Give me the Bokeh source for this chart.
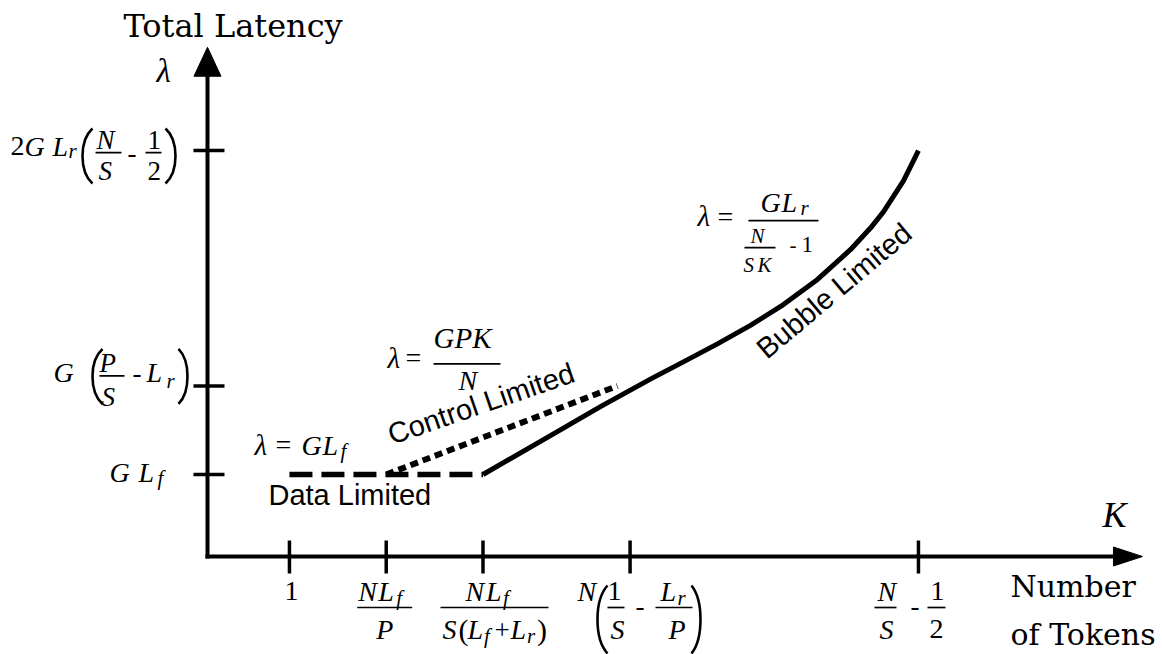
import math

from bokeh.plotting import figure
from bokeh.models import Range1d, ColumnDataSource
from bokeh.core.properties import value, field
from bokeh.embed import file_html
from bokeh.resources import INLINE

# ---------------------------------------------------------------
# Schematic latency model: K = number of tokens, lambda = latency
# ---------------------------------------------------------------
X_TICKS = [1.0, 2.0, 3.0, 4.52, 7.5]          # 1, NLf/P, NLf/S(Lf+Lr), N(1/S-Lr/P), N/S-1/2
Y_TICKS = [1.0, 2.08, 4.95]                   # G Lf, G(P/S-Lr), 2G Lr(N/S-1/2)

DATA_K = [1.0, 3.0]                           # data limited: lambda = G Lf
DATA_LAT = [1.0, 1.0]
CONTROL_K = [2.0, 4.39]                       # control limited: lambda = GPK/N
CONTROL_LAT = [1.0, 2.08]
BUBBLE_K = [3.0, 3.80, 4.214, 4.73, 5.071, 5.423, 5.764, 6.105, 6.457, 6.797,
            7.004, 7.138, 7.345, 7.50]
BUBBLE_LAT = [1.0, 1.545, 1.828, 2.163, 2.373, 2.593, 2.818, 3.072, 3.379, 3.741,
              4.005, 4.202, 4.580, 4.95]

REGIME_LABELS = ["Data Limited", "Control Limited", "Bubble Limited"]

# axis geometry (data units)
AXIS_K = 0.153
X_TIP = 9.815
Y_TIP = 6.21

W, H = 1162, 654
X0, X1 = -1.986, 10.022
Y0, Y1 = -1.195, 6.780
PXK = W / (X1 - X0)      # pixels per K unit
PXL = H / (Y1 - Y0)      # pixels per latency unit
RAISE = 0.37             # baseline correction, in ems

SERIF = "Liberation Serif"
WIDE_SERIF = "DejaVu Serif"
SANS = "Liberation Sans"

p = figure(width=W, height=H, x_range=Range1d(X0, X1), y_range=Range1d(Y0, Y1),
           toolbar_location=None, output_backend="svg", min_border=0, title=None,
           x_axis_location=None, y_axis_location=None,
           background_fill_color="white", border_fill_color="white")
p.outline_line_color = None
p.grid.visible = False

# ---------------- helpers for typeset formulas ----------------
texts = dict(x=[], y=[], text=[], size=[], font=[], style=[])
bars = dict(x0=[], y0=[], x1=[], y1=[])
parens = dict(x0=[], y0=[], x1=[], y1=[], cx0=[], cy0=[], cx1=[], cy1=[])


def kx(ak, dx):
    return ak + dx / PXK


def ly(al, dy):
    return al - dy / PXL


def put(ak, al, s, dx, dy, size=27, style="italic", font=SERIF):
    texts["x"].append(kx(ak, dx))
    texts["y"].append(ly(al, dy - RAISE * size))
    texts["text"].append(s)
    texts["size"].append(f"{size}px")
    texts["font"].append(font)
    texts["style"].append(style)


def bar(ak, al, dx0, dx1, dy):
    bars["x0"].append(kx(ak, dx0))
    bars["x1"].append(kx(ak, dx1))
    bars["y0"].append(ly(al, dy))
    bars["y1"].append(ly(al, dy))


def paren(ak, al, left, right, top, bottom, opening):
    h = bottom - top
    if opening:
        ex = right
        c = (left - 0.25 * right) / 0.75
    else:
        ex = left
        c = (right - 0.25 * left) / 0.75
    parens["x0"].append(kx(ak, ex))
    parens["y0"].append(ly(al, top))
    parens["x1"].append(kx(ak, ex))
    parens["y1"].append(ly(al, bottom))
    parens["cx0"].append(kx(ak, c))
    parens["cy0"].append(ly(al, top + 0.22 * h))
    parens["cx1"].append(kx(ak, c))
    parens["cy1"].append(ly(al, bottom - 0.22 * h))


def typeset(ak, al, spec):
    for item in spec:
        kind = item[0]
        if kind == "t":
            _, s, dx, dy, size, style = item
            put(ak, al, s, dx, dy, size, style)
        elif kind == "bar":
            _, a, b, dy = item
            bar(ak, al, a, b, dy)
        else:
            _, l, r, t, b = item
            paren(ak, al, l, r, t, b, kind == "(")


I, U = "italic", "normal"

Y_LABELS = [
    # G L_f
    [("t", "G", -98, 8, 28, I), ("t", "L", -69, 8, 28, I), ("t", "f", -50, 11, 21, I)],
    # G (P/S - L_r)
    [("t", "G", -154, -3, 28, I), ("(", -115, -105, -37, 18),
     ("t", "P", -108, -13, 27, I), ("bar", -108, -83, -10), ("t", "S", -106, 21, 27, I),
     ("t", "-", -75, -3, 27, U), ("t", "L", -61, -3, 28, I), ("t", "r", -41, 3, 21, I),
     (")", -29, -20, -37, 18)],
    # 2G L_r (N/S - 1/2)
    [("t", "2", -197, 6, 28, U), ("t", "G", -183, 6, 28, I), ("t", "L", -155, 6, 28, I),
     ("t", "r", -139, 8, 21, I), ("(", -125, -115, -22, 33),
     ("t", "N", -111, -1, 27, I), ("bar", -112, -86, 2), ("t", "S", -109, 30, 27, I),
     ("t", "-", -80, 12, 27, U),
     ("t", "1", -60, -1, 27, U), ("bar", -62, -46, 2), ("t", "2", -60, 30, 27, U),
     (")", -42, -32, -22, 33)],
]

NUM, BAR, DEN = 45, 51, 83
X_LABELS = [
    # 1
    [("t", "1", -5, 45, 28, U)],
    # N L_f / P
    [("t", "N", -28, NUM, 28, I), ("t", "L", -8, NUM, 28, I), ("t", "f", 10, NUM + 4, 21, I),
     ("bar", -29, 26, BAR), ("t", "P", -10, DEN, 28, I)],
    # N L_f / S (L_f + L_r)
    [("t", "N", -17.5, NUM, 28, I), ("t", "L", 3.0, NUM, 28, I), ("t", "f", 20, NUM + 4, 21, I),
     ("bar", -42.5, 65.5, BAR),
     ("t", "S", -40.5, DEN, 28, I), ("t", "(", -24.5, DEN + 1, 30, U), ("t", "L", -15.5, DEN, 28, I),
     ("t", "f", 1, DEN + 4, 21, I), ("t", "+", 11.5, DEN, 27, U), ("t", "L", 27.5, DEN, 28, I),
     ("t", "r", 44, DEN + 4, 21, I), ("t", ")", 54, DEN + 1, 30, U)],
    # N (1/S - L_r/P)
    [("t", "N", -52.6, NUM, 28, I), ("(", -32.6, -22.6, 29, 97),
     ("t", "1", -22.6, NUM, 28, U), ("bar", -22.6, -5.6, BAR), ("t", "S", -19.6, DEN, 28, I),
     ("t", "-", 5.4, BAR + 8, 27, U),
     ("t", "L", 30.4, NUM, 28, I), ("t", "r", 47.4, NUM + 4, 21, I), ("bar", 25.4, 62.4, BAR),
     ("t", "P", 38.4, DEN, 28, I), (")", 61.4, 70.4, 29, 97)],
    # N/S - 1/2
    [("t", "N", -41, NUM, 28, I), ("bar", -44, -22, BAR), ("t", "S", -39, DEN, 28, I),
     ("t", "-", -8, BAR + 8, 27, U),
     ("t", "1", 12, NUM, 28, U), ("bar", 9, 27, BAR), ("t", "2", 11, DEN, 28, U)],
]

for tv, spec in zip(Y_TICKS, Y_LABELS):
    typeset(AXIS_K, tv, spec)
for tk, spec in zip(X_TICKS, X_LABELS):
    typeset(tk, 0.0, spec)

# regime formulas, placed relative to the curve segments they describe
typeset(DATA_K[0], DATA_LAT[0], [
    ("t", "λ", -35, -19, 29, I), ("t", "=", -14, -20, 28, U),
    ("t", "G", 12, -19, 28, I), ("t", "L", 33, -19, 28, I), ("t", "f", 51, -16, 21, I)])

typeset(CONTROL_K[-1], CONTROL_LAT[-1], [
    ("t", "λ", -230, -17, 29, I), ("t", "=", -212, -18, 28, U),
    ("t", "GPK", -184, -37, 29, I), ("bar", -184, -117, -22),
    ("t", "N", -159, 5, 28, I)])

typeset(BUBBLE_K[-1], BUBBLE_LAT[-1], [
    ("t", "λ", -221, 76, 29, I), ("t", "=", -201, 76, 28, U),
    ("t", "G", -158, 62, 28, I), ("t", "L", -137, 62, 28, I), ("t", "r", -118, 65, 21, I),
    ("bar", -170, -100, 70),
    ("t", "N", -168, 93, 21, I), ("bar", -174, -143, 97),
    ("t", "S", -175, 122, 21, I), ("t", "K", -161, 122, 21, I),
    ("t", "-", -129, 102, 21, U), ("t", "1", -117, 102, 23, U)])

# axis symbols and titles
put(AXIS_K, Y_TIP, "λ", -51, 36, 33, I)
put(AXIS_K, Y_TIP, "Total Latency", -84, -9, 32, U, WIDE_SERIF)
put(X_TIP, 0.0, "K", -40, -28, 36, I)
put(X_TIP, 0.0, "Number", -132, 41, 30, U, WIDE_SERIF)
put(X_TIP, 0.0, "of Tokens", -132, 89, 30, U, WIDE_SERIF)

# ---------------- axes ----------------
p.segment(x0=[AXIS_K, AXIS_K - 2 / PXK], y0=[-2 / PXL, 0.0],
          x1=[AXIS_K, X_TIP - 20 / PXK], y1=[Y_TIP - 20 / PXL, 0.0],
          line_color="black", line_width=4)

# arrow heads
head_y = ([AXIS_K - 13.5 / PXK, AXIS_K, AXIS_K + 13.5 / PXK],
          [Y_TIP - 29 / PXL, Y_TIP, Y_TIP - 29 / PXL])
head_x = ([X_TIP - 29 / PXK, X_TIP, X_TIP - 29 / PXK],
          [-9.5 / PXL, 0.0, 9.5 / PXL])
p.patches(xs=[head_y[0], head_x[0]], ys=[head_y[1], head_x[1]],
          fill_color="black", line_color="black", line_width=1)

# tick marks
p.segment(x0=[AXIS_K - 14 / PXK] * len(Y_TICKS), y0=Y_TICKS,
          x1=[AXIS_K + 17 / PXK] * len(Y_TICKS), y1=Y_TICKS,
          line_color="black", line_width=3.5)
p.segment(x0=X_TICKS, y0=[16 / PXL] * len(X_TICKS),
          x1=X_TICKS, y1=[-17 / PXL] * len(X_TICKS),
          line_color="black", line_width=3.5)

# ---------------- regime curves ----------------
p.line(DATA_K, DATA_LAT, line_color="black", line_width=5.5, line_dash="23 9")
p.line(CONTROL_K, CONTROL_LAT, line_color="black", line_width=6, line_dash="8 5")
p.line(BUBBLE_K, BUBBLE_LAT, line_color="black", line_width=5, line_join="round")

# ---------------- formula pieces ----------------
p.segment(x0="x0", y0="y0", x1="x1", y1="y1", source=ColumnDataSource(bars),
          line_color="black", line_width=1.7)
p.bezier(x0="x0", y0="y0", x1="x1", y1="y1", cx0="cx0", cy0="cy0", cx1="cx1", cy1="cy1",
         source=ColumnDataSource(parens), line_color="black", line_width=2.6)
p.text(x="x", y="y", text="text", source=ColumnDataSource(texts),
       text_font=field("font"), text_font_size=field("size"), text_font_style=field("style"),
       text_color="black", text_align="left", text_baseline="alphabetic")

# ---------------- regime names ----------------
REG_SIZE = 29
reg_anchor = [(DATA_K[0], DATA_LAT[0], -21, 31, 0),
              (CONTROL_K[0], CONTROL_LAT[0], 6, -29, 19),
              (BUBBLE_K[-1], BUBBLE_LAT[-1], -151, 210, 40)]
reg_x, reg_y, reg_angle = [], [], []
for ak, al, dx, dy, ang in reg_anchor:
    lift = RAISE * REG_SIZE
    t = math.radians(ang)
    reg_x.append(kx(ak, dx - lift * math.sin(t)))
    reg_y.append(ly(al, dy - lift * math.cos(t)))
    reg_angle.append(ang)
p.text(x=reg_x, y=reg_y, text=REGIME_LABELS, angle=reg_angle, angle_units="deg",
       text_font=value(SANS), text_font_size=f"{REG_SIZE}px", text_color="black",
       text_align="left", text_baseline="alphabetic")

open("out.html", "w").write(file_html(p, INLINE))
